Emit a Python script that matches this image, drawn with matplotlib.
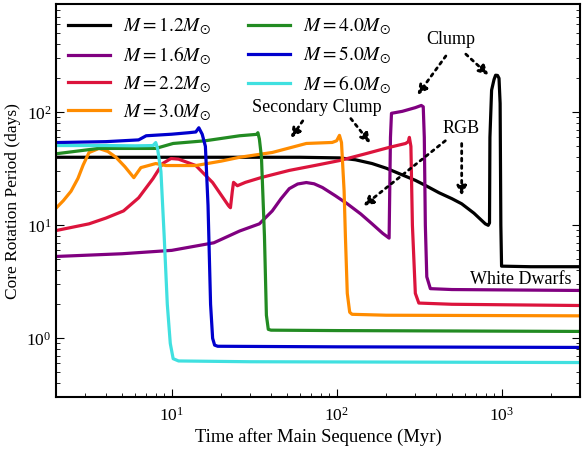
import numpy as np
import matplotlib.pyplot as plt

plt.rcParams['font.family'] = 'serif'
plt.rcParams['font.serif'] = ['Liberation Serif', 'DejaVu Serif']
plt.rcParams['mathtext.fontset'] = 'stix'

masses = ['1.2', '1.6', '2.2', '3.0', '4.0', '5.0', '6.0']
colors = ['black', '#800080', '#dc143c', '#ff8c00', '#228b22', '#0000cd', '#40e0e0']

# time after main sequence (Myr) and core rotation period (days)
t_12 = [2, 20, 60, 104, 130, 164, 200, 239, 300, 348, 418, 500, 573, 680, 797, 830, 845,
        850, 870, 900, 920, 945, 965, 980, 990, 1000, 1500, 3000]
p_12 = [40, 40, 40, 39.5, 38, 35.2, 32, 28.7, 25, 22.4, 19.4, 17.2, 15.5, 12.8, 10.3, 10, 10.5,
        60, 157, 195, 213, 212, 200, 120, 10, 4.35, 4.3, 4.3]

t_16 = [2, 5, 10, 18, 25.8, 34, 40.7, 46, 51.6, 58, 65.5, 73, 82, 98, 116, 140, 164, 190,
        208, 212, 215, 250, 300, 326, 335, 340, 345, 352, 370, 500, 3000]
p_16 = [5.3, 5.6, 6.0, 7.0, 8.9, 10.3, 13.4, 17.2, 21.1, 23.2, 23.9, 23.3, 21.6, 18.3, 15.5,
        12.6, 10.3, 8.5, 7.7, 60, 98, 102, 110, 115, 112, 60, 10, 3.5, 2.75, 2.7, 2.65]

t_22 = [2, 3.15, 4, 5.1, 6.3, 7.7, 8.8, 9.9, 11, 14, 17.7, 22.1, 22.7, 23.3, 23.7, 25, 28,
        35, 51.6, 75, 104, 150, 208, 262, 272, 276, 282, 288, 300, 315, 500, 3000]
p_22 = [9.0, 10.3, 11.6, 13.4, 17.5, 25.9, 35.2, 39, 38.5, 33.8, 23.9, 14.9, 14.3, 20, 24, 22.4, 24,
        26.5, 30.6, 34, 37.4, 43, 48.9, 53, 55, 60, 50, 10, 2.5, 2.05, 2.0, 1.95]

t_30 = [2, 2.2, 2.45, 2.7, 2.9, 3.15, 3.62, 4.1, 4.59, 5.2, 5.89, 6.5, 8.0, 9.2, 14, 20, 25.8,
        40.7, 65.5, 94, 100, 104, 107, 111, 113, 116, 120, 124, 200, 3000]
p_30 = [14.3, 16.5, 20, 26, 34, 44, 47.9, 45, 40, 33, 26.4, 32.4, 35.2, 33.8, 33.8, 37, 40,
        44.1, 53, 54.1, 56, 62.5, 54, 20, 8, 2.5, 1.7, 1.63, 1.6, 1.58]

t_40 = [2, 3.6, 8, 10.2, 16, 25.8, 32.7, 33.3, 34, 35, 36.5, 37.5, 38.5, 40, 100, 3000]
p_40 = [43, 47.9, 47.9, 53, 56, 62, 63.8, 66, 58, 40, 8, 1.6, 1.2, 1.18, 1.17, 1.15]

t_50 = [2, 4, 6.3, 7, 10, 12.7, 14, 14.6, 15.3, 16, 16.6, 17.2, 17.7, 18.2, 19, 100, 3000]
p_50 = [54, 55, 57, 62, 64, 66, 67, 73, 64, 50, 15, 2, 1.0, 0.87, 0.85, 0.84, 0.83]

t_60 = [2, 4, 6, 7.7, 8.0, 8.2, 8.6, 9.0, 9.4, 9.8, 10.2, 11, 30, 3000]
p_60 = [50.8, 50.8, 50.5, 50.8, 54, 48, 30, 8, 2, 0.9, 0.66, 0.63, 0.62, 0.61]

times = [t_12, t_16, t_22, t_30, t_40, t_50, t_60]
periods = [p_12, p_16, p_22, p_30, p_40, p_50, p_60]

fig, ax = plt.subplots(figsize=(5.82, 4.49), dpi=100)

for m, c, t, p in zip(masses, colors, times, periods):
    ax.plot(t, p, color=c, lw=2.3, label=r'$M = %s M_{\odot}$' % m)

ax.set_xscale('log')
ax.set_yscale('log')
ax.set_xlim(2, 3000)
ax.set_ylim(0.3, 900)

ax.set_xlabel('Time after Main Sequence (Myr)', fontsize=13.4, labelpad=2)
ax.set_ylabel('Core Rotation Period (days)', fontsize=12.5)
ax.tick_params(which='both', direction='in', labelsize=12.5, right=True)
ax.tick_params(axis='x', pad=7)
ax.tick_params(which='major', length=6)
ax.tick_params(which='minor', length=3)
for s in ax.spines.values():
    s.set_linewidth(1.5)

ax.legend(ncol=2, loc='upper left', frameon=False, fontsize=14,
          handlelength=2.15, handletextpad=0.67, columnspacing=1.9, labelspacing=0.38,
          borderaxespad=0.2)

arrow = dict(arrowstyle='-|>', linestyle=':', lw=2, color='black', mutation_scale=14)
ax.text(492, 445, 'Clump', ha='center', va='center', fontsize=13)
ax.annotate('', xy=(302, 136), xytext=(470, 330), arrowprops=arrow)
ax.annotate('', xy=(859, 205), xytext=(590, 340), arrowprops=arrow)

ax.text(76, 111, 'Secondary Clump', ha='center', va='center', fontsize=13)
ax.annotate('', xy=(51.6, 56.4), xytext=(63.7, 88), arrowprops=arrow)
ax.annotate('', xy=(164, 50.9), xytext=(119, 92), arrowprops=arrow)

ax.text(565, 72, 'RGB', ha='center', va='center', fontsize=13)
ax.annotate('', xy=(141, 14.3), xytext=(470, 58), arrowprops=arrow)
ax.annotate('', xy=(573, 17.2), xytext=(573, 56), arrowprops=arrow)

ax.text(1303, 3.34, 'White Dwarfs', ha='center', va='center', fontsize=13)

plt.subplots_adjust(left=0.097, right=0.997, top=0.99, bottom=0.115)
plt.savefig('out.png', dpi=100)
